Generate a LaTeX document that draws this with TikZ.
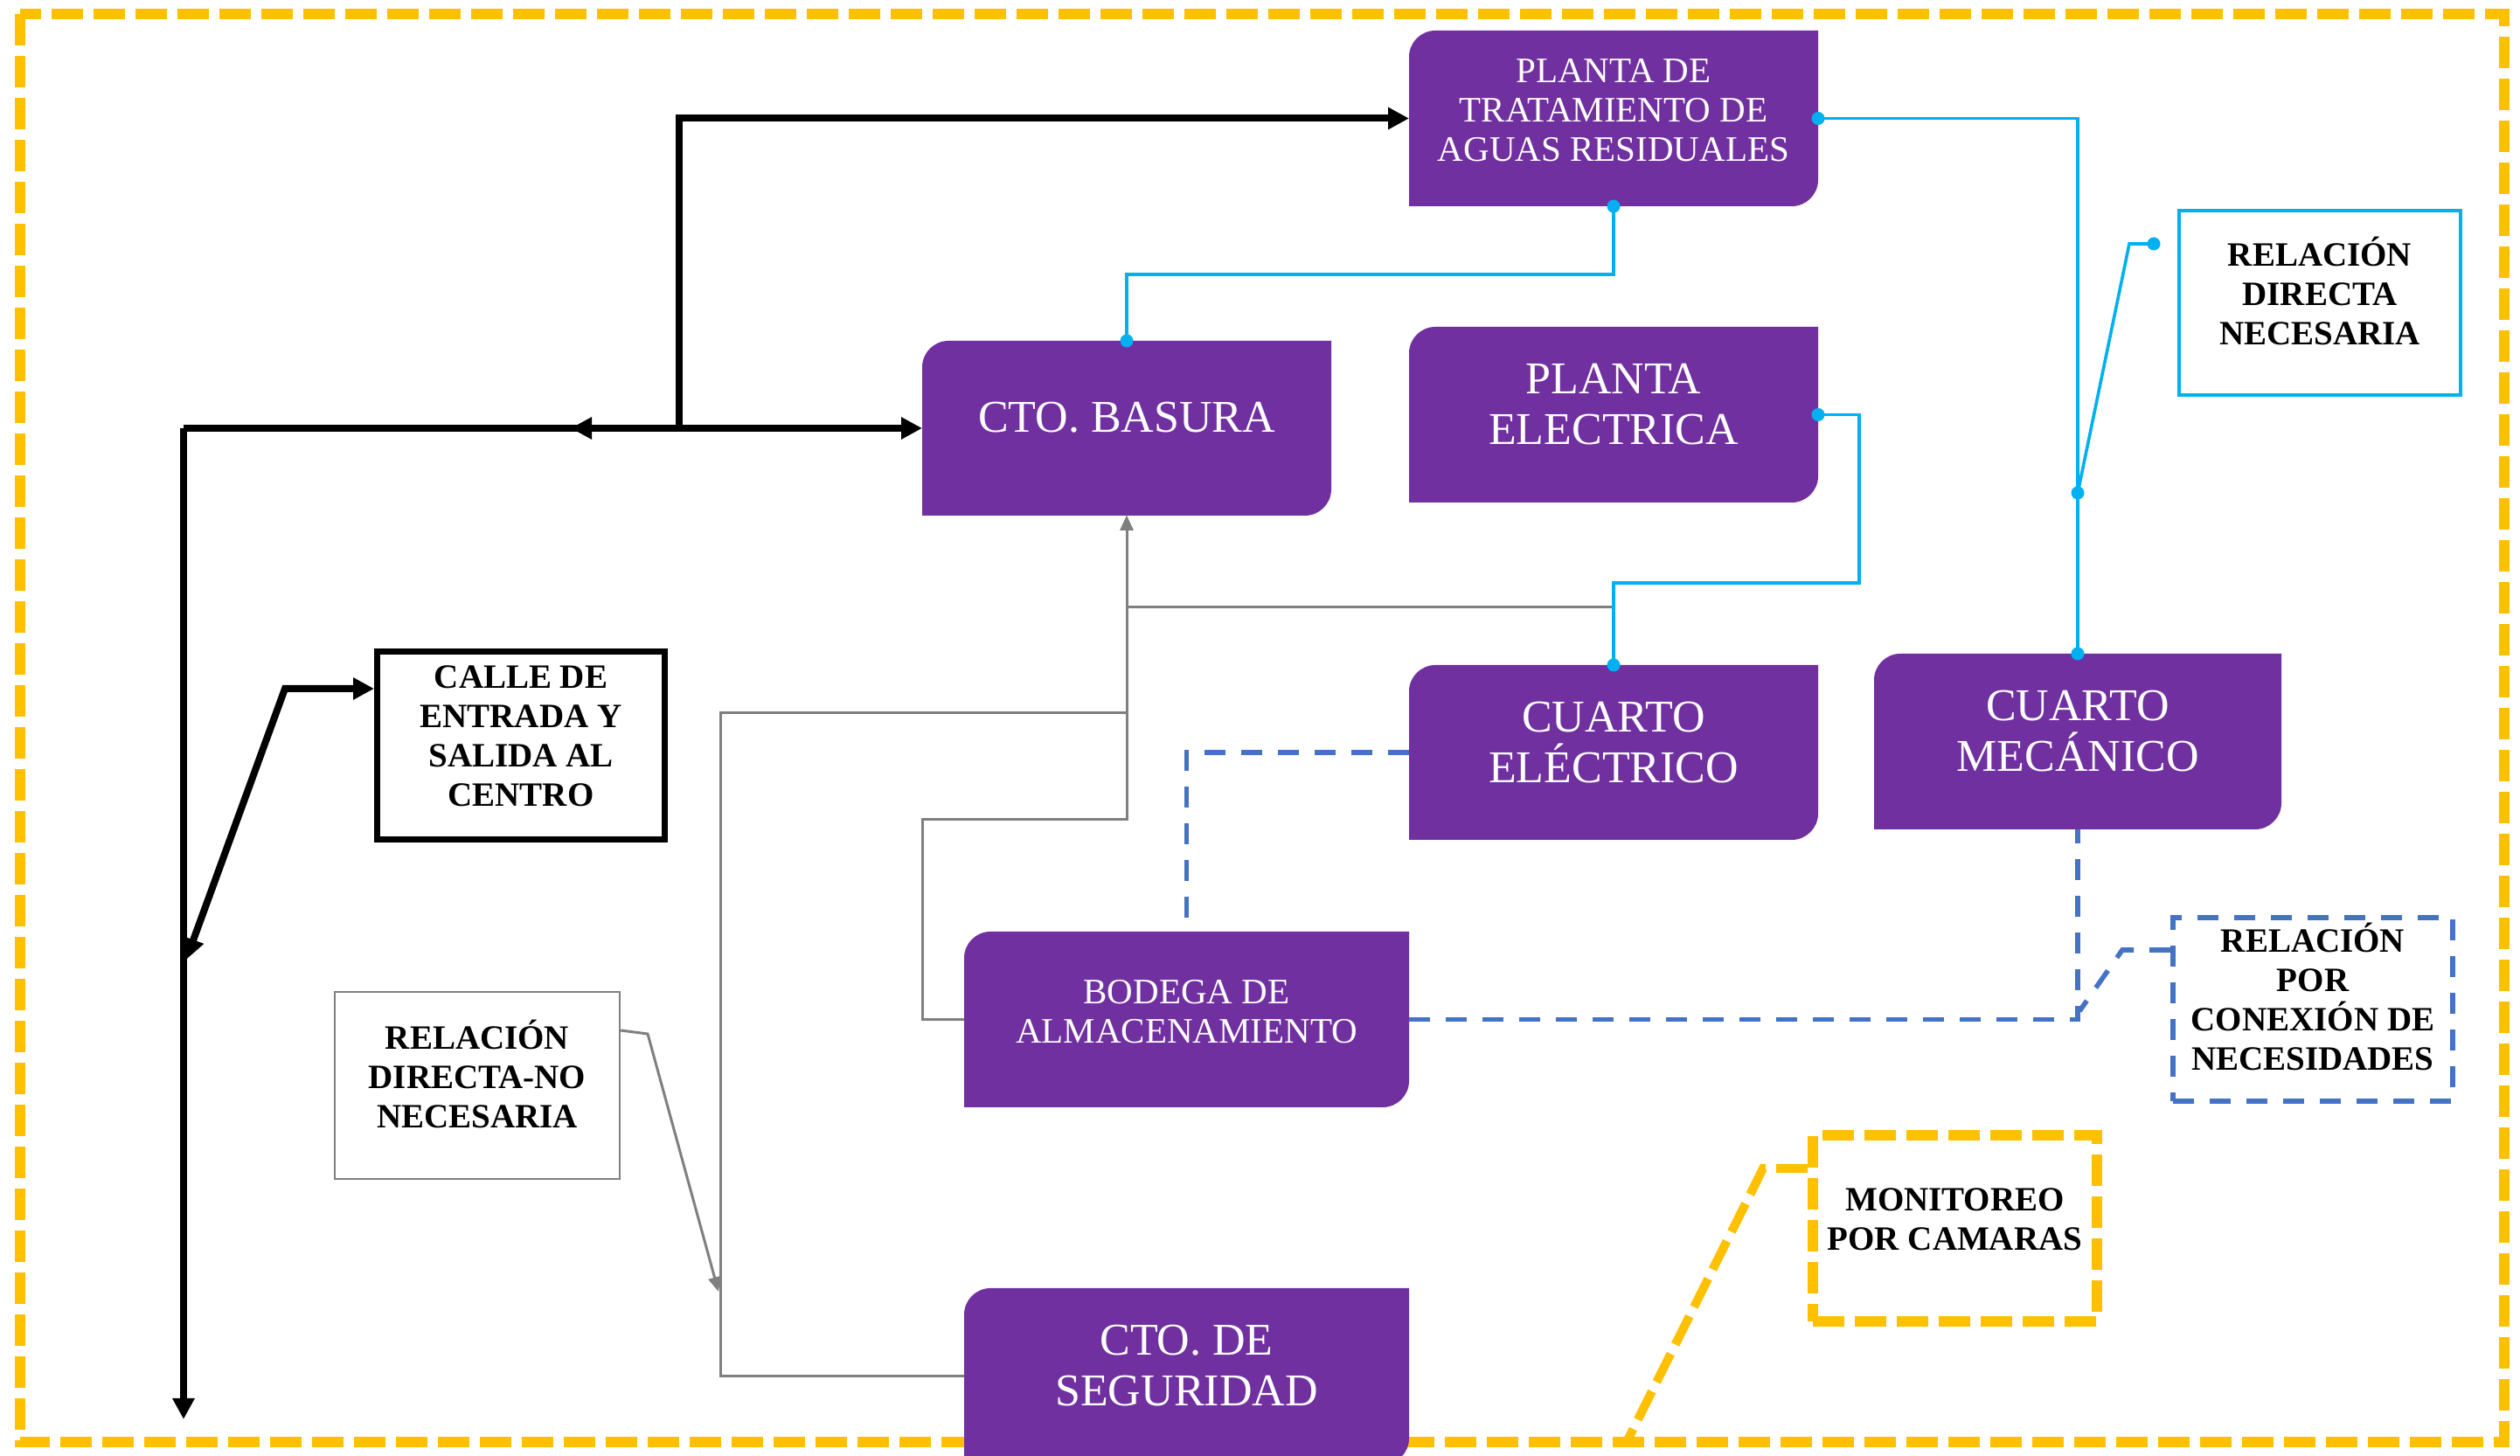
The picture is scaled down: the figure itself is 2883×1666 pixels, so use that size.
\documentclass[tikz,border=0pt]{standalone}
\usepackage{fontspec}
\setmainfont{Liberation Serif}
\usetikzlibrary{arrows.meta}
\definecolor{purp}{HTML}{7030A0}
\definecolor{cyanb}{HTML}{00B0F0}
\definecolor{grayl}{HTML}{7F7F7F}
\definecolor{dblue}{HTML}{4472C4}
\definecolor{gold}{HTML}{FFC000}
\tikzset{
  pbox/.style n args={2}{rectangle, inner sep=0pt, outer sep=0pt,
     minimum width=#1*0.25pt, minimum height=#2*0.25pt,
     path picture={\fill[purp]
       (path picture bounding box.south west)
       -- ([yshift=-7.5pt]path picture bounding box.north west)
       .. controls ([yshift=-3.4pt]path picture bounding box.north west) and ([xshift=3.4pt]path picture bounding box.north west)
       .. ([xshift=7.5pt]path picture bounding box.north west)
       -- (path picture bounding box.north east)
       -- ([yshift=7.5pt]path picture bounding box.south east)
       .. controls ([yshift=3.4pt]path picture bounding box.south east) and ([xshift=-3.4pt]path picture bounding box.south east)
       .. ([xshift=-7.5pt]path picture bounding box.south east)
       -- cycle;}},
  lbox/.style n args={2}{rectangle, inner sep=0pt,
     minimum width=#1*0.25pt, minimum height=#2*0.25pt},
  stxt/.style={text=white, align=center, inner sep=0pt, font=\fontsize{10.25pt}{11.25pt}\selectfont},
  ltxt/.style={text=white, align=center, inner sep=0pt, font=\fontsize{13pt}{14.6pt}\selectfont},
  ktxt/.style={text=black, align=center, inner sep=0pt, font=\bfseries\fontsize{9.75pt}{11.25pt}\selectfont},
  blk/.style={draw=black, line width=2pt},
  btip/.style={-{Triangle[length=6pt,width=6pt]}},
  cyl/.style={draw=cyanb, line width=0.9pt},
  gry/.style={draw=grayl, line width=0.75pt, -{Triangle[length=4.2pt,width=3.6pt]}},
  dbl/.style={draw=dblue, line width=1.4pt, dash pattern=on 6pt off 4.5pt},
  gld/.style={draw=gold, line width=3pt, dash pattern=on 9pt off 3pt},
}
\begin{document}
\begin{tikzpicture}[x=0.25pt, y=-0.25pt]
\useasboundingbox (0,0) rectangle (2883,1666);
\clip (0,0) rectangle (2883,1666);
\fill[white] (0,0) rectangle (2883,1666);

% outer frame
\draw[gld] (23,16) rectangle (2865,1650);

% purple boxes
\node[pbox={468}{201}] (ptar) at (1846,135.5) {};
\node[pbox={468}{200}] (basura) at (1289,490) {};
\node[pbox={468}{201}] (pelec) at (1846,474.5) {};
\node[pbox={468}{200}] (celec) at (1846,861) {};
\node[pbox={466}{201}] (cmec) at (2377,848.5) {};
\node[pbox={509}{201}] (bodega) at (1357.5,1166.5) {};
\node[pbox={509}{202}] (cseg) at (1357.5,1575) {};

\node[stxt] (ptarT) at ([yshift=2.4pt]ptar.center) {PLANTA DE\\TRATAMIENTO DE\\AGUAS RESIDUALES};
\node[ltxt] (basuraT) at ([yshift=3.1pt]basura.center) {CTO. BASURA};
\node[ltxt] (pelecT) at ([yshift=3pt]pelec.center) {PLANTA\\ELECTRICA};
\node[ltxt] (celecT) at ([yshift=2.9pt]celec.center) {CUARTO\\ELÉCTRICO};
\node[ltxt] (cmecT) at ([yshift=3pt]cmec.center) {CUARTO\\MECÁNICO};
\node[stxt] (bodegaT) at ([yshift=2.1pt]bodega.center) {BODEGA DE\\ALMACENAMIENTO};
\node[ltxt] (csegT) at ([yshift=3.1pt]cseg.center) {CTO. DE\\SEGURIDAD};

% outlined boxes
\node[lbox={329}{215}, draw=black, line width=1.75pt] (calle) at (596,853) {};
\node[ktxt] (calleT) at ([yshift=2.75pt]calle.center) {CALLE DE\\ENTRADA Y\\SALIDA AL\\CENTRO};
\node[lbox={322}{211}, draw=cyanb, line width=1pt] (relD) at (2654,346.5) {};
\node[ktxt] (relDT) at ([yshift=3.4pt]relD.center) {RELACIÓN\\DIRECTA\\NECESARIA};
\node[lbox={326}{214}, draw=grayl, line width=0.6pt] (relNN) at (546,1242) {};
\node[ktxt] (relNNT) at ([yshift=3.2pt]relNN.center) {RELACIÓN\\DIRECTA-NO\\NECESARIA};
\node[lbox={320}{210}, draw=dblue, line width=1.4pt, dash pattern=on 6pt off 4.5pt] (relC) at (2646,1155) {};
\node[ktxt] (relCT) at ([yshift=3.6pt]relC.center) {RELACIÓN\\POR\\CONEXIÓN DE\\NECESIDADES};
\node[lbox={325}{213}, gld] (mon) at (2236.5,1405.5) {};
\node[ktxt] (monT) at ([yshift=2.5pt]mon.center) {MONITOREO\\POR CAMARAS};

% black connectors
\coordinate (vtop) at (210,490);
\coordinate (vbot) at (210,1624);
\coordinate (jn) at (777,490);
\coordinate (midtip) at (653,490);
\coordinate (bend) at (326,788);
\coordinate (vhit) at (213,1098);
\draw[blk, btip] (vtop) -- (vbot);
\draw[blk, btip] (vtop) -- (basura.west);
\draw[blk, btip] (jn) -- (midtip);
\draw[blk, btip] (jn) |- (ptar.west);
\draw[blk, {Triangle[length=6pt,width=6pt]}-{Triangle[length=6pt,width=6pt]}] (vhit) -- (bend) -- (calle.west |- bend);

% gray connectors
\draw[gry] (bodega.west) -| (1055,938) -| (basura.south);
\draw[gry] (cseg.west) -| (824,816) -| (basura.south);
\draw[gry] (celec.north) |- (1289,695) -- (basura.south);
\coordinate (gA) at (741,1183);
\coordinate (gT) at (822,1478);
\draw[gry] (relNN.east |- 0,1179) -- (gA) -- (gT);

% blue connectors
\draw[cyl] (ptar.east) -| (cmec.north);
\draw[cyl] (ptar.south) -- (1846,314) -| (basura.north);
\draw[cyl] (pelec.east) -| (2127,667) -| (celec.north);
\coordinate (dA) at (2464,279);
\coordinate (dA2) at (2436,279);
\coordinate (dB) at (2377,564);
\draw[cyl] (dA) -- (dA2) -- (dB);
\foreach \p in {ptar.east, cmec.north, ptar.south, basura.north, pelec.east, celec.north, dA, dB}
  \fill[cyanb] (\p) circle (7.5);

% dashed blue connectors
\draw[dbl] (celec.west) -| (bodega.north);
\draw[dbl] (bodega.east) -| (cmec.south);
\coordinate (cA) at (2428,1087);
\coordinate (cB) at (2379,1157);
\draw[dbl] (relC.west |- 0,1087) -- (cA) -- (cB);

% yellow connector
\coordinate (yA) at (2017,1337);
\coordinate (yB) at (1861,1650);
\draw[gld, line width=2.5pt] (mon.west |- 0,1337) -- (yA) -- (yB);
\end{tikzpicture}
\end{document}
